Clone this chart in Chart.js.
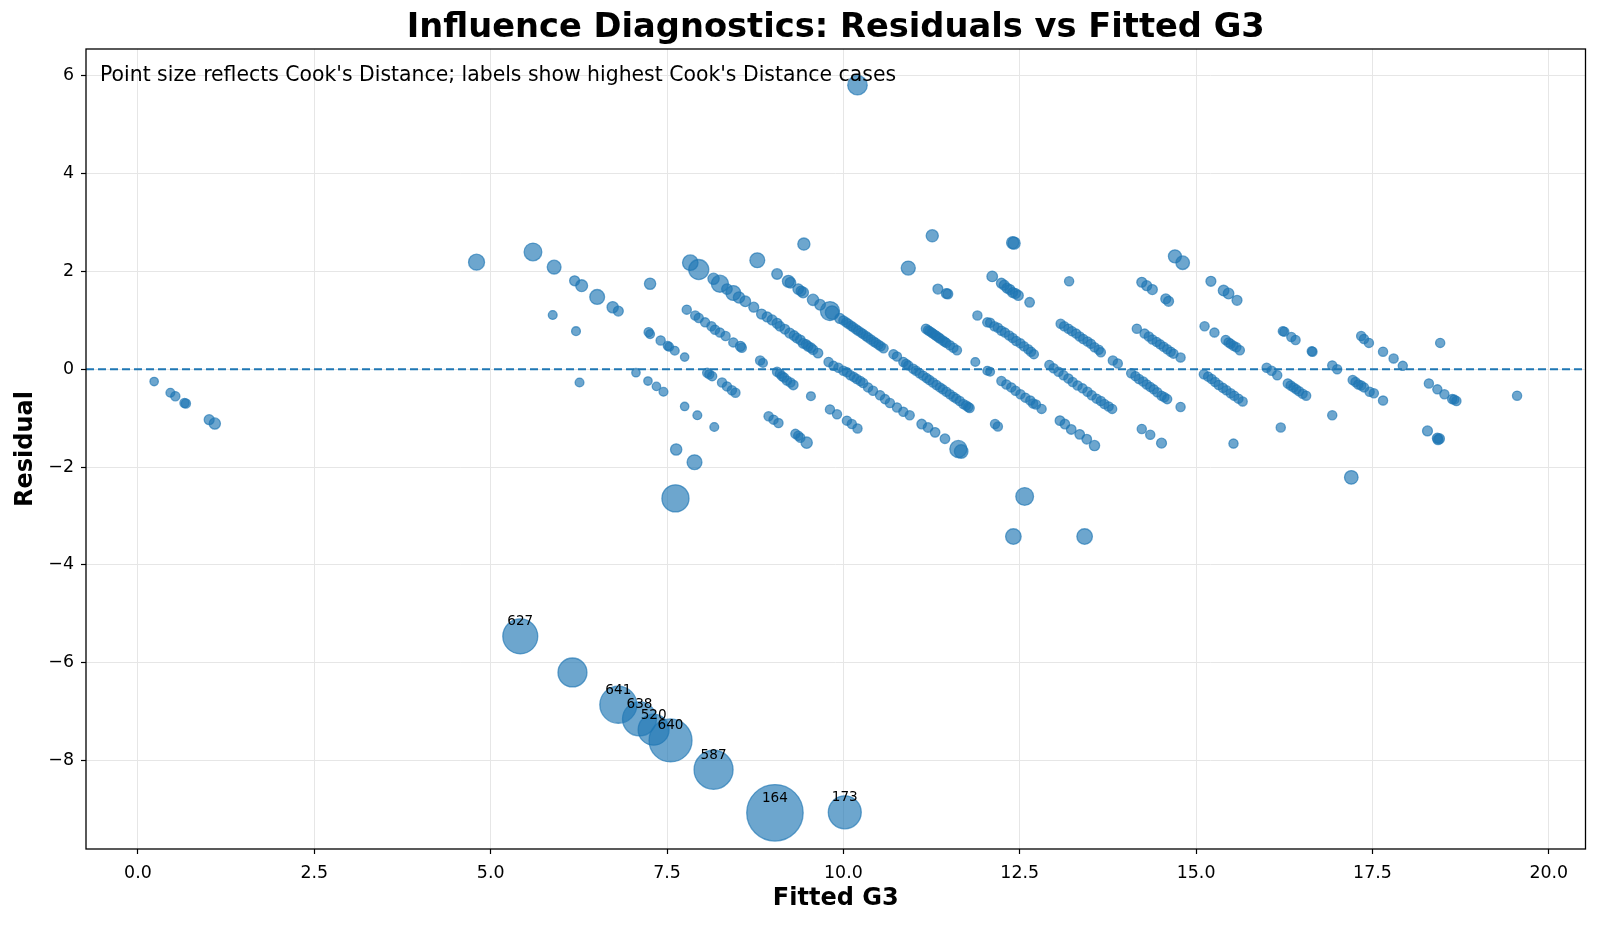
<!DOCTYPE html>
<html>
<head>
<meta charset="utf-8">
<script src="https://cdn.jsdelivr.net/npm/chart.js@4.4.1/dist/chart.umd.min.js"></script>
<style>
  body { margin: 0; background: #fff; }
  canvas { display: block; }
</style>
</head>
<body>
<canvas id="chart" width="1600" height="926"></canvas>
<script>
// fitted G3 / residual / Cook's distance
const fittedG3 = [
  0.23, 0.46, 0.53, 0.66, 0.68, 1.01, 1.09,
  4.80, 5.60, 5.90, 5.88, 6.19, 6.29, 6.51, 6.21, 6.26,
  6.73, 6.81, 7.26, 7.24, 7.26, 7.41, 7.51, 7.53, 7.61, 7.75, 7.06, 7.23, 7.35, 7.45, 7.75, 7.93, 8.17, 7.63, 7.89, 7.62,
  7.83, 7.95, 8.16, 8.25, 8.35, 8.44, 8.52, 8.61, 8.73, 8.84, 8.92, 8.99, 9.06, 9.10, 9.17, 9.24, 9.30, 9.34, 9.39, 9.43, 9.47, 9.50, 9.54, 9.57, 9.64,
  9.79, 9.86, 9.93, 10.00, 10.05, 10.10, 10.15, 10.19, 10.24, 10.28, 10.35, 10.42, 10.52, 10.59, 10.66, 10.76, 10.85, 10.94, 11.11, 11.20, 11.30, 11.44, 11.63, 11.67,
  7.78, 7.90, 7.95, 8.04, 8.13, 8.18, 8.25, 8.33, 8.44, 8.54, 8.56, 8.82, 8.86, 9.06, 9.10, 9.13, 9.16, 9.20, 9.25, 9.29, 9.54, 9.81, 9.91, 10.05, 10.12, 10.20,
  8.07, 8.10, 8.14, 8.28, 8.35, 8.42, 8.47, 8.94, 9.01, 9.08, 9.32, 9.36, 9.39, 9.48,
  8.78, 9.06, 9.22, 9.25, 9.36, 9.40, 9.43, 9.57, 9.67, 9.81, 9.84, 9.95, 10.00, 10.04, 10.07, 10.11, 10.14, 10.18, 10.21, 10.25, 10.28, 10.32, 10.35, 10.39, 10.43, 10.46, 10.50, 10.53, 10.57, 10.71, 10.76,
  10.85, 10.89, 10.92, 10.99, 11.03, 11.08, 11.13, 11.18, 11.22, 11.27, 11.32, 11.37, 11.41, 11.46, 11.51, 11.56, 11.60, 11.65, 11.70, 11.74, 11.77, 11.79, 12.15, 12.19,
  9.44, 11.17, 11.20, 11.22, 11.25, 11.27, 11.30, 11.32, 11.35, 11.37, 11.41, 11.44, 11.46, 11.51, 11.56, 11.61, 11.87, 12.04, 12.08, 12.24, 12.31, 12.38, 12.44, 12.51, 12.58, 12.65, 12.69, 12.73, 12.81,
  13.07, 13.14, 13.23, 13.35, 13.45, 13.56,
  10.92, 11.34, 11.46, 11.48, 11.90, 12.04, 12.08, 12.14, 12.19, 12.24, 12.29, 12.35, 12.40, 12.45, 12.51, 12.56, 12.62, 12.66, 12.70,
  12.92, 12.98, 13.05, 13.12, 13.19, 13.25, 13.32, 13.39, 13.46, 13.52, 13.59, 13.65, 13.70, 13.76, 13.81, 14.23, 14.35, 14.51,
  12.57, 12.41, 13.42, 17.20,
  11.26, 12.11, 12.24, 12.28, 12.32, 12.36, 12.40, 12.44, 12.48, 12.64, 12.40, 12.42,
  13.08, 13.13, 13.19, 13.24, 13.30, 13.35, 13.40, 13.46, 13.51, 13.56, 13.62, 13.65, 13.82, 13.89, 14.08, 14.14, 14.19, 14.25, 14.30, 14.35, 14.40, 14.45, 14.51, 14.55, 14.59, 14.78,
  13.20, 14.16, 14.27, 14.33, 14.38, 14.44, 14.49, 14.54, 14.59, 14.64, 14.68, 14.78, 15.11, 15.17, 15.22, 15.27, 15.32, 15.38, 15.43, 15.49, 15.54, 15.60, 15.66, 15.53,
  14.23, 14.30, 14.38, 14.57, 14.61, 15.12, 15.26, 15.42, 15.46, 15.49, 15.53, 15.57, 15.62, 16.00, 16.07, 16.15, 16.30, 16.34, 16.38, 16.42, 16.46, 16.51, 16.56, 16.93, 16.20,
  14.70, 14.81, 15.21, 15.39, 15.46, 15.58, 16.23, 16.25, 16.35, 16.41, 16.64, 16.65, 16.93, 17.00, 17.22, 17.26, 17.30, 17.34, 17.38, 17.46, 17.52, 17.65, 18.28, 18.42, 18.45, 18.43,
  17.34, 17.38, 17.45, 17.65, 17.80, 17.93, 18.30, 18.42, 18.52, 18.63, 18.66, 18.69, 18.46, 19.55,
  10.20, 6.16
];
const residuals = [
  -0.25, -0.48, -0.55, -0.69, -0.70, -1.03, -1.11,
  2.19, 2.40, 2.09, 1.11, 1.81, 1.71, 1.48, 0.78, -0.27,
  1.27, 1.19, 1.75, 0.76, 0.72, 0.59, 0.48, 0.46, 0.38, 0.25, -0.07, -0.24, -0.35, -0.46, -0.76, -0.94, -1.18, -1.64, -1.90, -2.64,
  2.18, 2.04, 1.85, 1.75, 1.64, 1.56, 1.47, 1.39, 1.27, 1.13, 1.07, 1.01, 0.94, 0.88, 0.82, 0.74, 0.69, 0.64, 0.60, 0.53, 0.51, 0.47, 0.44, 0.40, 0.33,
  0.15, 0.07, 0.03, -0.03, -0.06, -0.12, -0.16, -0.20, -0.24, -0.28, -0.37, -0.44, -0.53, -0.61, -0.69, -0.78, -0.87, -0.94, -1.12, -1.19, -1.29, -1.42, -1.63, -1.68,
  1.22, 1.10, 1.05, 0.96, 0.88, 0.81, 0.75, 0.68, 0.55, 0.47, 0.44, 0.18, 0.13, -0.05, -0.09, -0.14, -0.17, -0.23, -0.27, -0.32, -0.55, -0.82, -0.92, -1.05, -1.12, -1.21,
  -0.07, -0.10, -0.14, -0.27, -0.35, -0.43, -0.48, -0.96, -1.03, -1.10, -1.32, -1.36, -1.40, -1.50,
  2.23, 1.95, 1.80, 1.77, 1.64, 1.60, 1.57, 1.42, 1.32, 1.19, 1.16, 1.04, 1.00, 0.96, 0.93, 0.89, 0.86, 0.82, 0.79, 0.75, 0.72, 0.68, 0.65, 0.61, 0.57, 0.54, 0.50, 0.47, 0.43, 0.31, 0.26,
  0.15, 0.11, 0.08, 0.01, -0.03, -0.08, -0.13, -0.18, -0.22, -0.27, -0.32, -0.37, -0.41, -0.46, -0.51, -0.56, -0.60, -0.65, -0.71, -0.74, -0.77, -0.79, -1.12, -1.17,
  2.56, 0.83, 0.80, 0.78, 0.75, 0.73, 0.70, 0.68, 0.65, 0.63, 0.59, 0.56, 0.54, 0.49, 0.44, 0.39, 0.15, -0.03, -0.05, -0.24, -0.31, -0.37, -0.44, -0.51, -0.58, -0.64, -0.70, -0.72, -0.81,
  -1.05, -1.12, -1.23, -1.33, -1.43, -1.56,
  2.07, 1.64, 1.55, 1.54, 1.10, 0.96, 0.95, 0.88, 0.85, 0.79, 0.75, 0.69, 0.64, 0.58, 0.53, 0.47, 0.41, 0.36, 0.31,
  0.09, 0.02, -0.05, -0.12, -0.19, -0.26, -0.33, -0.39, -0.46, -0.53, -0.60, -0.65, -0.71, -0.76, -0.81, -1.22, -1.34, -1.51,
  -2.60, -3.42, -3.42, -2.21,
  2.73, 1.90, 1.76, 1.72, 1.66, 1.63, 1.57, 1.55, 1.51, 1.37, 2.59, 2.58,
  0.93, 0.88, 0.83, 0.78, 0.73, 0.67, 0.62, 0.57, 0.52, 0.45, 0.40, 0.35, 0.18, 0.12, -0.08, -0.14, -0.20, -0.25, -0.31, -0.36, -0.41, -0.47, -0.54, -0.57, -0.61, -0.77,
  1.80, 0.83, 0.73, 0.67, 0.61, 0.56, 0.51, 0.46, 0.41, 0.36, 0.32, 0.24, -0.10, -0.15, -0.20, -0.26, -0.32, -0.38, -0.43, -0.49, -0.54, -0.60, -0.66, -1.52,
  1.78, 1.71, 1.63, 1.44, 1.39, 0.88, 0.75, 0.60, 0.55, 0.52, 0.48, 0.45, 0.39, 0.03, -0.03, -0.12, -0.29, -0.33, -0.37, -0.41, -0.45, -0.50, -0.54, -0.94, -1.19,
  2.31, 2.18, 1.80, 1.61, 1.55, 1.41, 0.78, 0.77, 0.66, 0.60, 0.37, 0.36, 0.08, 0.00, -0.22, -0.26, -0.31, -0.33, -0.37, -0.46, -0.49, -0.64, -1.26, -1.41, -1.42, -1.44,
  0.68, 0.62, 0.54, 0.36, 0.22, 0.07, -0.29, -0.41, -0.51, -0.61, -0.62, -0.65, 0.54, -0.54,
  5.81, -6.20
];
const cooksD = [
  0.004, 0.005, 0.006, 0.006, 0.006, 0.008, 0.012,
  0.030, 0.038, 0.021, 0.005, 0.008, 0.014, 0.025, 0.005, 0.005,
  0.012, 0.008, 0.012, 0.006, 0.005, 0.006, 0.005, 0.005, 0.005, 0.004, 0.004, 0.004, 0.004, 0.005, 0.004, 0.005, 0.005, 0.012, 0.025, 0.095,
  0.028, 0.050, 0.012, 0.035, 0.010, 0.025, 0.012, 0.010, 0.008, 0.008, 0.008, 0.008, 0.008, 0.007, 0.007, 0.008, 0.007, 0.007, 0.007, 0.007, 0.007, 0.007, 0.007, 0.007, 0.007,
  0.006, 0.006, 0.006, 0.006, 0.006, 0.006, 0.006, 0.006, 0.006, 0.006, 0.006, 0.006, 0.006, 0.006, 0.006, 0.006, 0.006, 0.006, 0.007, 0.007, 0.007, 0.007, 0.035, 0.020,
  0.006, 0.006, 0.006, 0.006, 0.006, 0.006, 0.006, 0.006, 0.006, 0.008, 0.006, 0.006, 0.005, 0.006, 0.006, 0.006, 0.006, 0.006, 0.006, 0.007, 0.005, 0.006, 0.006, 0.006, 0.006, 0.006,
  0.006, 0.006, 0.006, 0.006, 0.006, 0.006, 0.006, 0.006, 0.006, 0.006, 0.006, 0.006, 0.006, 0.012,
  0.025, 0.010, 0.014, 0.010, 0.010, 0.008, 0.010, 0.012, 0.010, 0.045, 0.020, 0.008, 0.006, 0.006, 0.006, 0.006, 0.006, 0.006, 0.006, 0.006, 0.006, 0.006, 0.006, 0.006, 0.006, 0.006, 0.006, 0.006, 0.006, 0.006, 0.006,
  0.006, 0.006, 0.006, 0.006, 0.006, 0.006, 0.006, 0.006, 0.006, 0.006, 0.006, 0.006, 0.006, 0.006, 0.006, 0.006, 0.006, 0.006, 0.006, 0.006, 0.006, 0.006, 0.006, 0.006,
  0.015, 0.006, 0.006, 0.006, 0.006, 0.006, 0.006, 0.006, 0.006, 0.006, 0.006, 0.006, 0.006, 0.006, 0.006, 0.006, 0.005, 0.005, 0.005, 0.006, 0.006, 0.006, 0.006, 0.006, 0.006, 0.006, 0.006, 0.006, 0.006,
  0.007, 0.007, 0.007, 0.007, 0.007, 0.009,
  0.022, 0.008, 0.008, 0.008, 0.006, 0.006, 0.006, 0.006, 0.006, 0.006, 0.006, 0.006, 0.006, 0.006, 0.006, 0.006, 0.006, 0.006, 0.006,
  0.006, 0.006, 0.006, 0.006, 0.006, 0.006, 0.006, 0.006, 0.006, 0.006, 0.006, 0.006, 0.006, 0.006, 0.006, 0.006, 0.006, 0.008,
  0.038, 0.028, 0.028, 0.020,
  0.015, 0.010, 0.008, 0.008, 0.008, 0.008, 0.008, 0.008, 0.008, 0.007, 0.015, 0.015,
  0.006, 0.006, 0.006, 0.006, 0.006, 0.006, 0.006, 0.006, 0.006, 0.006, 0.006, 0.006, 0.006, 0.006, 0.006, 0.006, 0.006, 0.006, 0.006, 0.006, 0.006, 0.006, 0.006, 0.006, 0.006, 0.006,
  0.006, 0.006, 0.006, 0.006, 0.006, 0.006, 0.006, 0.006, 0.006, 0.006, 0.006, 0.006, 0.006, 0.006, 0.006, 0.006, 0.006, 0.006, 0.006, 0.006, 0.006, 0.006, 0.006, 0.006,
  0.008, 0.008, 0.008, 0.008, 0.008, 0.006, 0.006, 0.006, 0.006, 0.006, 0.006, 0.006, 0.006, 0.006, 0.006, 0.006, 0.006, 0.006, 0.006, 0.006, 0.006, 0.006, 0.006, 0.006, 0.006,
  0.018, 0.020, 0.008, 0.010, 0.010, 0.008, 0.006, 0.006, 0.006, 0.006, 0.006, 0.006, 0.006, 0.006, 0.006, 0.006, 0.006, 0.006, 0.006, 0.006, 0.006, 0.006, 0.008, 0.008, 0.008, 0.008,
  0.006, 0.006, 0.006, 0.006, 0.006, 0.006, 0.006, 0.006, 0.006, 0.006, 0.006, 0.006, 0.006, 0.006,
  0.047, 0.109
];

// highest Cook's distance cases (labelled)
const topIds = ['627', '641', '638', '520', '640', '587', '164', '173'];
const topFitted = [5.42, 6.81, 7.11, 7.31, 7.55, 8.16, 9.03, 10.02];
const topResid = [-5.46, -6.86, -7.15, -7.37, -7.59, -8.19, -9.07, -9.06];
const topCooks = [0.160, 0.180, 0.151, 0.125, 0.243, 0.200, 0.420, 0.142];

const xTicks = [0, 2.5, 5, 7.5, 10, 12.5, 15, 17.5, 20];
const yTicks = [-8, -6, -4, -2, 0, 2, 4, 6];

if (fittedG3.length !== residuals.length || fittedG3.length !== cooksD.length) {
    console.log('length mismatch', fittedG3.length, residuals.length, cooksD.length);
}

const allX = fittedG3.concat(topFitted);
const allY = residuals.concat(topResid);
const allD = cooksD.concat(topCooks);

// marker area grows with Cook's distance
function radiusFor(d) {
    return Math.sqrt(30 + 4000 * d) * 0.6945 - 0.5;
}

const BLUE = 'rgba(31,119,180,0.65)';
const FONT = "'DejaVu Sans', 'Liberation Sans', sans-serif";

const overlay = {
    id: 'overlay',
    afterDatasetsDraw(chart) {
        const ctx = chart.ctx;
        const a = chart.chartArea;
        const xs = chart.scales.x, ys = chart.scales.y;
        ctx.save();

        // zero line
        const y0 = ys.getPixelForValue(0);
        ctx.strokeStyle = '#1f77b4';
        ctx.lineWidth = 2;
        ctx.setLineDash([8, 4]);
        ctx.beginPath();
        ctx.moveTo(a.left, y0);
        ctx.lineTo(a.right, y0);
        ctx.stroke();
        ctx.setLineDash([]);

        // frame
        ctx.strokeStyle = '#000';
        ctx.lineWidth = 1.3;
        ctx.strokeRect(a.left, a.top, a.right - a.left, a.bottom - a.top);

        // case labels
        ctx.fillStyle = '#000';
        ctx.font = '13.6px ' + FONT;
        ctx.textAlign = 'center';
        ctx.textBaseline = 'alphabetic';
        topIds.forEach((id, i) => {
            const px = xs.getPixelForValue(topFitted[i]);
            const py = ys.getPixelForValue(topResid[i]);
            ctx.fillText(id, px, py - 11);
        });

        // note in the corner
        ctx.font = '20.4px ' + FONT;
        ctx.textAlign = 'left';
        ctx.textBaseline = 'middle';
        ctx.fillText("Point size reflects Cook's Distance; labels show highest Cook's Distance cases", 100, 76);

        // title and axis titles
        ctx.textAlign = 'center';
        ctx.font = 'bold 33.7px ' + FONT;
        ctx.fillText('Influence Diagnostics: Residuals vs Fitted G3', (a.left + a.right) / 2, 28);
        ctx.font = 'bold 24px ' + FONT;
        ctx.fillText('Fitted G3', (a.left + a.right) / 2, 899);
        ctx.translate(25.5, (a.top + a.bottom) / 2);
        ctx.rotate(-Math.PI / 2);
        ctx.fillText('Residual', 0, 0);
        ctx.restore();
    }
};

new Chart(document.getElementById('chart'), {
    type: 'scatter',
    data: {
        datasets: [{
            data: allX.map((x, i) => ({ x: x, y: allY[i] })),
            pointRadius: allD.map(radiusFor),
            pointHoverRadius: allD.map(radiusFor),
            pointBackgroundColor: BLUE,
            pointBorderColor: BLUE,
            pointBorderWidth: 1.3
        }]
    },
    options: {
        responsive: false,
        animation: false,
        devicePixelRatio: 1,
        layout: { autoPadding: false, padding: { left: 0, top: 49, right: 14.5, bottom: 0 } },
        plugins: { legend: { display: false }, tooltip: { enabled: false } },
        scales: {
            x: {
                type: 'linear',
                min: -0.736,
                max: 20.52,
                afterBuildTicks: s => { s.ticks = xTicks.map(v => ({ value: v })); },
                afterFit: s => { s.height = 77; s.paddingLeft = 0; s.paddingRight = 0; },
                grid: { color: '#e6e6e6', lineWidth: 1, tickColor: '#000', tickLength: 5, tickWidth: 1.2 },
                border: { display: false },
                ticks: {
                    color: '#000',
                    font: { family: FONT, size: 17.4 },
                    padding: 9,
                    maxRotation: 0,
                    callback: v => v.toFixed(1)
                }
            },
            y: {
                type: 'linear',
                min: -9.81,
                max: 6.55,
                afterBuildTicks: s => { s.ticks = yTicks.map(v => ({ value: v })); },
                afterFit: s => { s.width = 86; s.paddingTop = 0; s.paddingBottom = 0; },
                grid: { color: '#e6e6e6', lineWidth: 1, tickColor: '#000', tickLength: 5, tickWidth: 1.2 },
                border: { display: false },
                ticks: {
                    color: '#000',
                    font: { family: FONT, size: 17.4 },
                    padding: 7,
                    callback: v => (v < 0 ? '\u2212' : '') + Math.abs(v)
                }
            }
        }
    },
    plugins: [overlay]
});
</script>
</body>
</html>
